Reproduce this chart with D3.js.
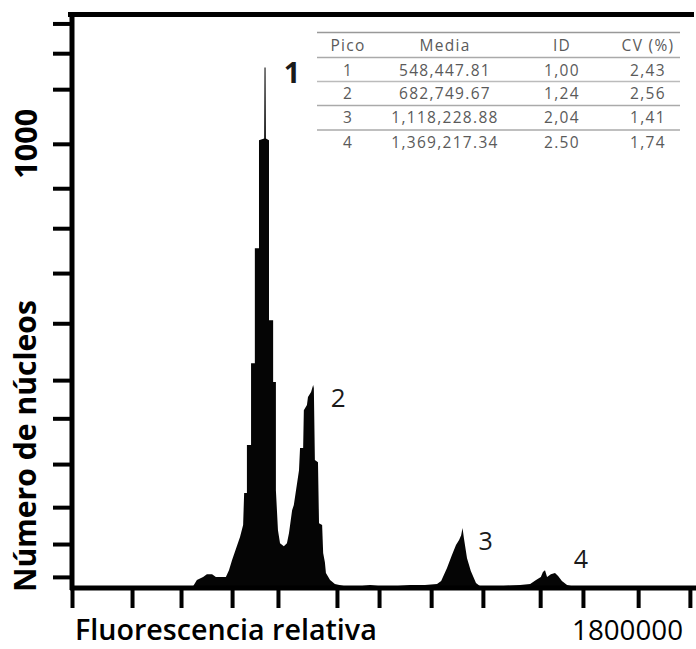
<!DOCTYPE html>
<html><head><meta charset="utf-8">
<script src="https://cdn.jsdelivr.net/npm/d3@7"></script>
<style>body{margin:0;background:#fff}svg{display:block}</style>
</head><body><svg id="c" width="696" height="649"></svg>
<script>
// ---- data (fluorescence in thousands, counts = number of nuclei) ----
const fluorK = [328,351,362,380,391,406,417,446,455,464,475,487,496,499,507,507,519,519,530,530,542,542,557,558,561,562,571,571,583,583,591,591,597,603,614,623,629,638,643,658,661,670,672,681,684,693,699,701,704,713,716,725,728,733,736,748,762,791,835,864,893,936,980,1023,1058,1070,1087,1101,1113,1122,1128,1132,1136,1145,1156,1171,1183,1241,1299,1328,1345,1359,1365,1371,1377,1388,1400,1409,1420,1435,1458,1530,1800];
const counts = [0,4,18,25,31,31,25,25,40,63,88,115,142,214,214,322,322,506,506,765,765,1008,1012,1172,1172,1012,1008,603,603,464,464,220,130,101,94,101,124,175,187,265,315,315,400,412,430,441,457,450,288,283,146,142,79,58,34,18,9,4,4,7,4,4,7,7,9,16,45,74,97,108,119,135,112,67,38,11,4,4,7,9,18,25,36,40,25,31,34,27,16,7,2,0,0];
const xTickK = [0,174,316,464,597,768,890,1041,1191,1357,1481,1641,1791];
const yTicks = [25,99,182,279,382,468,596,709,810,900,1000,1123,1204,1271];
const yTickLabel = "1000";
const xEndLabel = "1800000";
const xTitle = "Fluorescencia relativa";
const yTitle = "Número de núcleos";
const peakLabels = ["1","2","3","4"];
const peakApexK = [559.5,699,1132,1371];
const peakApexCount = [1172,457,135,40];
const tableHeader = ["Pico","Media","ID","CV (%)"];
const tablePico = ["1","2","3","4"];
const tableMedia = ["548,447.81","682,749.67","1,118,228.88","1,369,217.34"];
const tableID = ["1,00","1,24","2,04","2.50"];
const tableCV = ["2,43","2,56","1,41","1,74"];

// ---- layout ----
const svg = d3.select("#c");
const x = d3.scaleLinear().domain([0,1800000]).range([72,693]);
const y = d3.scaleLinear().domain([0,1290]).range([588,15]);
const pts = fluorK.map((f,i)=>({f:f*1000,c:counts[i]}));

function fit(sel, target){
  const w = sel.node().getComputedTextLength();
  const fs = parseFloat(sel.attr("font-size"));
  sel.attr("font-size", fs*target/w);
}

// histogram
svg.append("path").datum(pts)
  .attr("fill","#050505")
  .attr("d", d3.area().x(d=>x(d.f)).y0(y(0)).y1(d=>y(d.c)));

// top border line
svg.append("line").attr("x1",68).attr("x2",694).attr("y1",14.5).attr("y2",14.5)
  .attr("stroke","#000").attr("stroke-width",5);

// y axis
const ya = svg.append("g").attr("transform","translate(72,0)")
  .call(d3.axisLeft(y).tickValues(yTicks).tickSize(19).tickFormat(""));
ya.select(".domain").remove();
ya.selectAll(".tick line").attr("stroke","#000").attr("stroke-width",4);
svg.append("line").attr("x1",72).attr("x2",72).attr("y1",12).attr("y2",590)
  .attr("stroke","#000").attr("stroke-width",5);

// x axis
const xa = svg.append("g").attr("transform","translate(0,588)")
  .call(d3.axisBottom(x).tickValues(xTickK.map(v=>v*1000)).tickSize(20).tickFormat(""));
xa.select(".domain").remove();
xa.selectAll(".tick line").attr("stroke","#000").attr("stroke-width",4);
svg.append("line").attr("x1",70).attr("x2",696).attr("y1",588).attr("y2",588)
  .attr("stroke","#000").attr("stroke-width",5);

// axis texts
const t1 = svg.append("text").text(xTitle).attr("x",75).attr("y",640)
  .attr("font-family","Open Sans").attr("font-weight",600).attr("font-size",26).attr("fill","#000");
fit(t1,302);
const t2 = svg.append("text").text(xEndLabel).attr("x",683).attr("y",640).attr("text-anchor","end")
  .attr("font-family","Open Sans").attr("font-weight",400).attr("font-size",27).attr("fill","#000");
fit(t2,111);
const t3 = svg.append("text").text(yTitle).attr("transform","translate(36,446) rotate(-90)")
  .attr("text-anchor","middle")
  .attr("font-family","Open Sans").attr("font-weight",700).attr("font-size",26).attr("fill","#000");
fit(t3,292);
const t4 = svg.append("text").text(yTickLabel).attr("transform",`translate(37,${y(1000)}) rotate(-90)`)
  .attr("text-anchor","middle")
  .attr("font-family","Open Sans").attr("font-weight",700).attr("font-size",26).attr("fill","#000");
fit(t4,70);

// peak labels
const peakOff = [[27,16,29,700],[25,22,26,400],[23,22,25,400],[36,-2,25,400]];
peakLabels.forEach((lab,i)=>{
  svg.append("text").text(lab)
    .attr("x", x(peakApexK[i]*1000)+peakOff[i][0])
    .attr("y", y(peakApexCount[i])+peakOff[i][1])
    .attr("text-anchor","middle")
    .attr("font-family","Open Sans").attr("font-weight",peakOff[i][3])
    .attr("font-size",peakOff[i][2]).attr("fill","#1a1a1a");
});

// table
const tL=317, tR=680;
const colX=[348,445,562,648];
const rowBase=[51,76,99,123,148];
const lineY=[[32.5,"#999"],[57.5,"#aaa"],[81.5,"#bbb"],[105.5,"#aaa"],[130,"#aaa"]];
lineY.forEach(([ly,c])=>svg.append("line").attr("x1",tL).attr("x2",tR).attr("y1",ly).attr("y2",ly)
  .attr("stroke",c).attr("stroke-width",1.3));
const rows=[tableHeader, ...tablePico.map((p,i)=>[p,tableMedia[i],tableID[i],tableCV[i]])];
rows.forEach((r,ri)=>r.forEach((v,ci)=>{
  svg.append("text").text(v).attr("x",colX[ci]).attr("y",rowBase[ri])
    .attr("text-anchor","middle").attr("font-family","Open Sans").attr("font-size",15.5)
    .attr("letter-spacing",1.3).attr("fill","#5a5a5a");
}));
</script></body></html>
